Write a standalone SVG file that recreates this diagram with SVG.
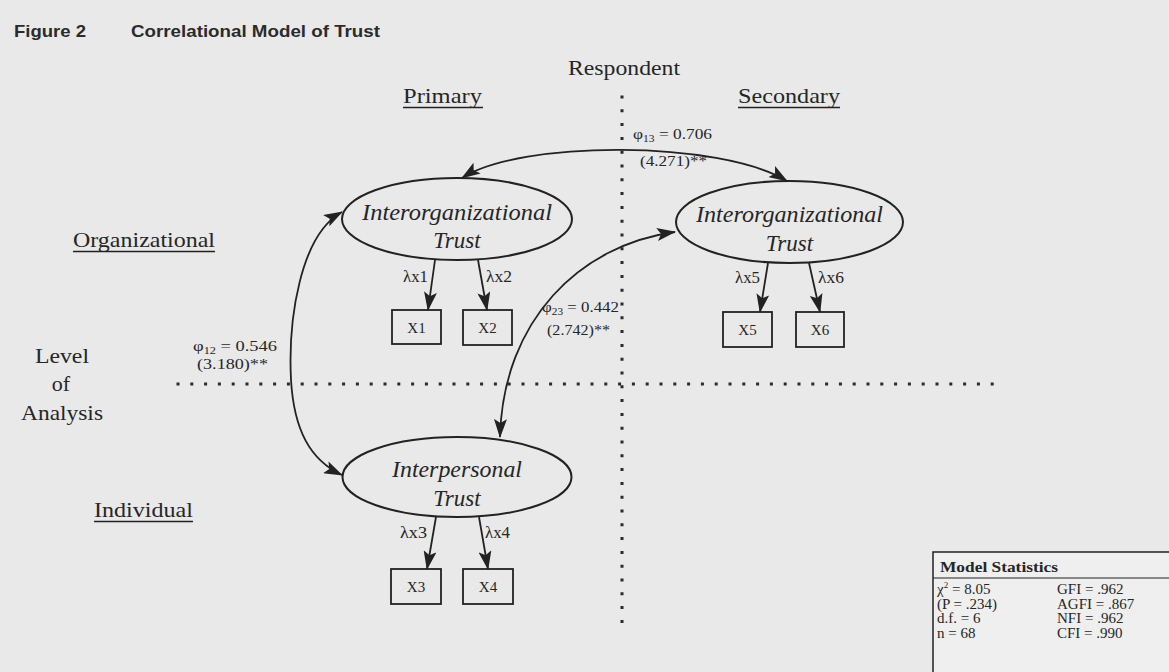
<svg xmlns="http://www.w3.org/2000/svg" width="1169" height="672" viewBox="0 0 1169 672">
  <style>
    .ink { stroke: #222; fill: none; }
    .ell { stroke: #222; stroke-width: 2; fill: none; }
    .box { stroke: #222; stroke-width: 1.8; fill: none; }
    .serif { font-family: "Liberation Serif", "Times New Roman", serif; fill: #262626; }
    .it { font-family: "Liberation Serif", "Times New Roman", serif; font-style: italic; font-size: 23px; fill: #262626; }
    .head { font-size: 22px; }
    .lab { font-size: 15px; }
    .lam { font-size: 16px; }
    .coef { font-size: 15px; }
    .stat { font-size: 15px; }
    .title { font-family: "Liberation Sans", Arial, sans-serif; font-weight: bold; font-size: 17px; fill: #2b2b2b; }
    .dots { stroke: #2a2a2a; stroke-width: 3; stroke-linecap: square; stroke-dasharray: 0 13.8; fill: none; }
    .conn { stroke: #222; stroke-width: 1.8; fill: none; }
  </style>
  <defs>
    <marker id="arrow" viewBox="0 0 19 13" refX="18" refY="6.5" markerWidth="19" markerHeight="13" markerUnits="userSpaceOnUse" orient="auto-start-reverse">
      <path d="M0,0 L19,6.5 L0,13 L4,6.5 z" fill="#222"/>
    </marker>
  </defs>

  <!-- page -->
  <rect x="0" y="0" width="1169" height="672" fill="#e9e9e9"/>

  <!-- title -->
  <text class="title" x="14" y="37" textLength="72" lengthAdjust="spacingAndGlyphs">Figure 2</text>
  <text class="title" x="131" y="37" textLength="249" lengthAdjust="spacingAndGlyphs">Correlational Model of Trust</text>

  <!-- axis headings -->
  <g id="axis-labels">
    <text class="serif head" x="568" y="75" textLength="112" lengthAdjust="spacingAndGlyphs">Respondent</text>
    <text class="serif head" x="403" y="103" textLength="79" lengthAdjust="spacingAndGlyphs">Primary</text>
    <line class="ink" x1="403" y1="107.5" x2="483" y2="107.5" stroke-width="1.3"/>
    <text class="serif head" x="738" y="103" textLength="102" lengthAdjust="spacingAndGlyphs">Secondary</text>
    <line class="ink" x1="738" y1="107.5" x2="840" y2="107.5" stroke-width="1.3"/>
    <text class="serif head" x="73" y="247" textLength="142" lengthAdjust="spacingAndGlyphs">Organizational</text>
    <line class="ink" x1="73" y1="251.5" x2="215" y2="251.5" stroke-width="1.3"/>
    <text class="serif head" x="62" y="363" text-anchor="middle" textLength="54" lengthAdjust="spacingAndGlyphs">Level</text>
    <text class="serif head" x="61" y="391" text-anchor="middle">of</text>
    <text class="serif head" x="62" y="420" text-anchor="middle" textLength="82" lengthAdjust="spacingAndGlyphs">Analysis</text>
    <text class="serif head" x="94" y="517" textLength="99" lengthAdjust="spacingAndGlyphs">Individual</text>
    <line class="ink" x1="94" y1="521.5" x2="193" y2="521.5" stroke-width="1.3"/>
  </g>

  <!-- quadrant dividers -->
  <g id="dividers">
    <line class="dots" x1="622" y1="97" x2="622" y2="626"/>
    <line class="dots" x1="178" y1="384" x2="998" y2="384"/>
  </g>

  <!-- latent constructs -->
  <g id="inter-org-primary">
    <ellipse class="ell" cx="457" cy="219" rx="115" ry="41"/>
    <text class="it" x="457" y="220" text-anchor="middle" textLength="190" lengthAdjust="spacingAndGlyphs">Interorganizational</text>
    <text class="it" x="457" y="248" text-anchor="middle">Trust</text>
  </g>
  <g id="inter-org-secondary">
    <ellipse class="ell" cx="789.5" cy="222" rx="113.5" ry="41"/>
    <text class="it" x="789.5" y="222" text-anchor="middle" textLength="187" lengthAdjust="spacingAndGlyphs">Interorganizational</text>
    <text class="it" x="789.5" y="251" text-anchor="middle">Trust</text>
  </g>
  <g id="interpersonal">
    <ellipse class="ell" cx="457" cy="477" rx="114.5" ry="40"/>
    <text class="it" x="457" y="477" text-anchor="middle" textLength="130" lengthAdjust="spacingAndGlyphs">Interpersonal</text>
    <text class="it" x="457" y="506" text-anchor="middle">Trust</text>
  </g>

  <!-- indicators -->
  <g id="x1"><rect class="box" x="392" y="310" width="49" height="34"/><text class="serif lab" x="416.5" y="332.5" text-anchor="middle">X1</text></g>
  <g id="x2"><rect class="box" x="463" y="310" width="49" height="35"/><text class="serif lab" x="487.5" y="333" text-anchor="middle">X2</text></g>
  <g id="x5"><rect class="box" x="723" y="312" width="49" height="35"/><text class="serif lab" x="747.5" y="335" text-anchor="middle">X5</text></g>
  <g id="x6"><rect class="box" x="796" y="312" width="48" height="35"/><text class="serif lab" x="820" y="335" text-anchor="middle">X6</text></g>
  <g id="x3"><rect class="box" x="391" y="569" width="50" height="35"/><text class="serif lab" x="416" y="592" text-anchor="middle">X3</text></g>
  <g id="x4"><rect class="box" x="463" y="569" width="50" height="35"/><text class="serif lab" x="488" y="592" text-anchor="middle">X4</text></g>

  <!-- connectors -->
  <g id="connectors">
    <!-- loadings -->
    <path class="conn" d="M435,260 L428,310" marker-end="url(#arrow)"/>
    <path class="conn" d="M478,260 L487,310" marker-end="url(#arrow)"/>
    <path class="conn" d="M768,263 L760,312" marker-end="url(#arrow)"/>
    <path class="conn" d="M809,263 L820,312" marker-end="url(#arrow)"/>
    <path class="conn" d="M436,517 L427,569" marker-end="url(#arrow)"/>
    <path class="conn" d="M479,517 L488,569" marker-end="url(#arrow)"/>
    <!-- correlations -->
    <path class="conn" d="M462,178 C520,140 720,140 787,181" marker-start="url(#arrow)" marker-end="url(#arrow)"/>
    <path class="conn" d="M342,212 C300,235 288,320 291,380 C294,430 310,460 342,475" marker-start="url(#arrow)" marker-end="url(#arrow)"/>
    <path class="conn" d="M675,232 C580,245 503,320 500,437" marker-start="url(#arrow)" marker-end="url(#arrow)"/>
  </g>

  <!-- loading labels -->
  <g id="loading-labels" class="serif lam">
    <text x="403" y="282" textLength="25" lengthAdjust="spacingAndGlyphs">λx1</text>
    <text x="486" y="282" textLength="26" lengthAdjust="spacingAndGlyphs">λx2</text>
    <text x="735" y="283" textLength="25" lengthAdjust="spacingAndGlyphs">λx5</text>
    <text x="818" y="283" textLength="26" lengthAdjust="spacingAndGlyphs">λx6</text>
    <text x="400" y="538" textLength="27" lengthAdjust="spacingAndGlyphs">λx3</text>
    <text x="485" y="538" textLength="25" lengthAdjust="spacingAndGlyphs">λx4</text>
  </g>

  <!-- correlation labels -->
  <g id="correlation-labels" class="serif coef">
    <text x="633" y="139" textLength="79" lengthAdjust="spacingAndGlyphs">φ<tspan font-size="10" dy="3">13</tspan><tspan dy="-3"> = 0.706</tspan></text>
    <text x="640" y="166" textLength="67" lengthAdjust="spacingAndGlyphs">(4.271)**</text>
    <text x="542" y="312" textLength="77" lengthAdjust="spacingAndGlyphs">φ<tspan font-size="10" dy="3">23</tspan><tspan dy="-3"> = 0.442</tspan></text>
    <text x="547" y="335" textLength="63" lengthAdjust="spacingAndGlyphs">(2.742)**</text>
    <text x="193" y="351" textLength="84" lengthAdjust="spacingAndGlyphs">φ<tspan font-size="10" dy="3">12</tspan><tspan dy="-3"> = 0.546</tspan></text>
    <text x="197" y="369" textLength="71" lengthAdjust="spacingAndGlyphs">(3.180)**</text>
  </g>

  <!-- fit statistics -->
  <g id="model-statistics">
    <rect x="933" y="552" width="250" height="140" fill="#efefef" stroke="#222" stroke-width="1.5"/>
    <line x1="933" y1="578" x2="1169" y2="578" stroke="#222" stroke-width="1.2"/>
    <text class="serif" x="940" y="572" font-size="15" font-weight="bold" textLength="118" lengthAdjust="spacingAndGlyphs">Model Statistics</text>
    <g class="serif stat">
      <text x="937" y="594">χ<tspan font-size="9" dy="-6">2</tspan><tspan dy="6"> = 8.05</tspan></text>
      <text x="937" y="608.5">(P = .234)</text>
      <text x="937" y="623">d.f. = 6</text>
      <text x="937" y="637.5">n = 68</text>
      <text x="1057" y="594">GFI = .962</text>
      <text x="1057" y="608.5">AGFI = .867</text>
      <text x="1057" y="623">NFI = .962</text>
      <text x="1057" y="637.5">CFI = .990</text>
    </g>
  </g>
</svg>
